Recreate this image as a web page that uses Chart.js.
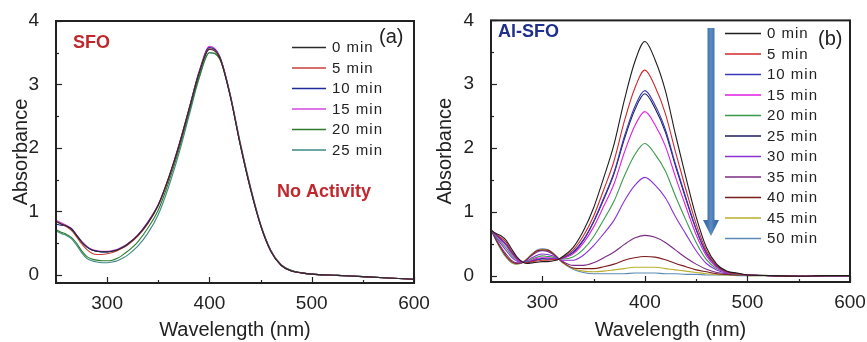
<!DOCTYPE html>
<html>
<head>
<meta charset="utf-8">
<script src="https://cdn.jsdelivr.net/npm/chart.js@4.4.0/dist/chart.umd.min.js"></script>
<style>
html, body { margin: 0; padding: 0; background: #fff; }
#wrap { position: relative; width: 867px; height: 342px; overflow: hidden; }
#graficoA { position: absolute; left: 0; top: 0; }
#graficoB { position: absolute; left: 434px; top: 0; }
</style>
</head>
<body>
<div id="wrap">
<canvas id="graficoA" width="434" height="342"></canvas>
<canvas id="graficoB" width="433" height="342"></canvas>
</div>
<script>
// wavelength grid (nm)
const wavelengths = [250,255,260,265,270,275,280,285,290,295,300,305,310,315,320,330,340,350,360,370,380,390,400,410,420,430,440,450,460,470,480,490,500,525,550,575,600];
const xTicks = [300, 400, 500, 600];
const yTicks = [0, 1, 2, 3, 4];

// (a) SFO
const timesA = ["0 min", "5 min", "10 min", "15 min", "20 min", "25 min"];
const sfo0  = [0.84,0.80,0.77,0.72,0.62,0.52,0.44,0.39,0.37,0.36,0.36,0.37,0.39,0.43,0.48,0.62,0.82,1.10,1.52,2.02,2.60,3.18,3.55,3.42,2.84,2.06,1.36,0.78,0.37,0.15,0.06,0.03,0.01,-0.01,-0.03,-0.05,-0.07];
const sfo5  = [0.84,0.80,0.76,0.70,0.60,0.49,0.40,0.34,0.32,0.32,0.33,0.35,0.38,0.42,0.47,0.61,0.81,1.09,1.51,2.01,2.60,3.18,3.56,3.43,2.85,2.07,1.37,0.78,0.37,0.15,0.06,0.03,0.01,-0.01,-0.03,-0.05,-0.07];
const sfo10 = [0.80,0.78,0.77,0.73,0.63,0.52,0.44,0.39,0.37,0.36,0.36,0.37,0.39,0.43,0.48,0.62,0.83,1.10,1.52,2.03,2.61,3.20,3.58,3.44,2.85,2.06,1.36,0.78,0.37,0.15,0.06,0.03,0.01,-0.01,-0.03,-0.05,-0.07];
const sfo15 = [0.86,0.82,0.78,0.73,0.63,0.53,0.45,0.40,0.38,0.37,0.37,0.38,0.40,0.44,0.49,0.63,0.84,1.11,1.53,2.04,2.62,3.21,3.60,3.45,2.86,2.07,1.37,0.79,0.38,0.16,0.06,0.03,0.01,-0.01,-0.03,-0.05,-0.07];
const sfo20 = [0.71,0.67,0.64,0.59,0.50,0.38,0.29,0.25,0.23,0.22,0.22,0.23,0.26,0.31,0.37,0.52,0.74,1.02,1.45,1.96,2.55,3.12,3.50,3.40,2.84,2.07,1.38,0.79,0.38,0.16,0.07,0.03,0.01,-0.01,-0.03,-0.05,-0.07];
const sfo25 = [0.69,0.65,0.62,0.57,0.47,0.35,0.26,0.22,0.20,0.19,0.19,0.20,0.22,0.26,0.31,0.45,0.66,0.95,1.38,1.90,2.50,3.10,3.50,3.42,2.87,2.10,1.40,0.80,0.39,0.16,0.07,0.03,0.01,-0.01,-0.03,-0.05,-0.07];

// (b) Al-SFO
const timesB = ["0 min", "5 min", "10 min", "15 min", "20 min", "25 min", "30 min", "35 min", "40 min", "45 min", "50 min"];
const al0  = [0.71,0.66,0.62,0.55,0.42,0.30,0.22,0.19,0.20,0.21,0.22,0.22,0.23,0.25,0.30,0.44,0.70,1.06,1.54,2.06,2.75,3.34,3.67,3.38,2.90,2.20,1.54,0.92,0.44,0.18,0.07,0.04,0.01,0.00,-0.01,0.00,0.00];
const al5  = [0.71,0.65,0.59,0.52,0.39,0.29,0.22,0.20,0.22,0.23,0.24,0.24,0.25,0.25,0.29,0.40,0.62,0.93,1.35,1.80,2.42,2.93,3.22,2.96,2.54,1.93,1.35,0.81,0.39,0.16,0.06,0.03,0.01,0.00,-0.01,0.00,0.00];
const al10 = [0.71,0.64,0.57,0.49,0.37,0.28,0.22,0.21,0.23,0.25,0.26,0.26,0.26,0.26,0.28,0.37,0.56,0.85,1.22,1.62,2.18,2.64,2.90,2.67,2.29,1.74,1.22,0.73,0.35,0.15,0.06,0.03,0.01,0.00,-0.01,0.00,0.00];
const al15 = [0.71,0.63,0.55,0.47,0.35,0.26,0.21,0.21,0.24,0.27,0.28,0.28,0.27,0.26,0.27,0.34,0.51,0.76,1.09,1.44,1.93,2.34,2.57,2.36,2.03,1.54,1.08,0.64,0.31,0.13,0.05,0.03,0.01,0.00,-0.01,0.00,0.00];
const al20 = [0.71,0.61,0.52,0.43,0.32,0.25,0.21,0.22,0.26,0.29,0.31,0.30,0.29,0.26,0.26,0.29,0.41,0.61,0.88,1.17,1.56,1.89,2.07,1.90,1.64,1.24,0.87,0.52,0.25,0.11,0.05,0.02,0.01,0.00,-0.01,0.00,0.00];
const al25 = [0.70,0.64,0.56,0.48,0.37,0.27,0.21,0.21,0.23,0.25,0.27,0.26,0.26,0.26,0.28,0.36,0.55,0.84,1.20,1.60,2.14,2.59,2.85,2.62,2.25,1.71,1.20,0.72,0.35,0.15,0.06,0.03,0.01,0.00,-0.01,0.00,0.00];
const al30 = [0.72,0.60,0.49,0.39,0.29,0.23,0.21,0.23,0.28,0.32,0.34,0.33,0.31,0.27,0.24,0.24,0.32,0.47,0.66,0.87,1.17,1.41,1.54,1.42,1.22,0.92,0.65,0.39,0.19,0.09,0.04,0.02,0.01,0.00,-0.01,0.00,0.00];
const al35 = [0.72,0.57,0.44,0.33,0.24,0.20,0.20,0.25,0.32,0.37,0.39,0.38,0.34,0.27,0.22,0.16,0.16,0.20,0.28,0.37,0.49,0.59,0.63,0.60,0.52,0.40,0.28,0.18,0.10,0.05,0.03,0.02,0.01,0.00,-0.01,0.00,0.00];
const al40 = [0.72,0.56,0.42,0.30,0.22,0.19,0.20,0.25,0.33,0.39,0.40,0.40,0.35,0.28,0.21,0.12,0.11,0.11,0.14,0.18,0.24,0.28,0.30,0.29,0.25,0.19,0.14,0.09,0.06,0.03,0.02,0.01,0.01,0.00,-0.01,0.00,0.00];
const al45 = [0.72,0.55,0.41,0.29,0.21,0.18,0.20,0.26,0.34,0.39,0.41,0.40,0.36,0.28,0.20,0.11,0.07,0.06,0.07,0.09,0.11,0.13,0.13,0.13,0.11,0.09,0.07,0.05,0.03,0.02,0.01,0.01,0.00,0.00,-0.01,0.00,0.00];
const al50 = [0.72,0.55,0.40,0.28,0.20,0.18,0.20,0.26,0.34,0.40,0.42,0.41,0.36,0.28,0.20,0.10,0.05,0.03,0.03,0.03,0.03,0.04,0.04,0.04,0.03,0.03,0.02,0.02,0.01,0.01,0.01,0.00,0.00,0.00,-0.01,0.00,0.00];

const coresA = ["#2b2b2b", "#c8403c", "#1e2a9c", "#d448e0", "#2c7a2c", "#3c8a86"];
const coresB = ["#1e1e1e", "#d0282c", "#3a3ab8", "#e01ee0", "#3a9a4a", "#1c1c5c", "#8a30d4", "#7c2c84", "#7a1c1c", "#b8ae2c", "#5c8ab4"];

const fonte = "'Liberation Sans', Arial, sans-serif";

// inward ticks + frame
const moldura = {
    id: "moldura",
    afterDatasetsDraw(chart) {
        const { ctx, chartArea: a, scales } = chart;
        ctx.save();
        ctx.strokeStyle = "#222";
        ctx.lineWidth = 1.2;
        for (let v = 250; v <= 600; v += 50) {
            const px = Math.round(scales.x.getPixelForValue(v)) + 0.5;
            const len = v % 100 === 0 ? 6 : 3;
            ctx.beginPath();
            ctx.moveTo(px, a.bottom);
            ctx.lineTo(px, a.bottom - len);
            ctx.stroke();
        }
        for (let v = 0; v <= 4; v += 0.5) {
            const py = Math.round(scales.y.getPixelForValue(v)) + 0.5;
            const len = Number.isInteger(v) ? 6 : 3;
            ctx.beginPath();
            ctx.moveTo(a.left, py);
            ctx.lineTo(a.left + len, py);
            ctx.stroke();
        }
        ctx.lineWidth = 2;
        ctx.strokeRect(a.left, a.top, a.right - a.left, a.bottom - a.top);
        ctx.restore();
    }
};

// legend, labels and arrow
function decoracao(cfg) {
    return {
        id: "decoracao",
        afterDraw(chart) {
            const ctx = chart.ctx;
            ctx.save();
            chart.data.datasets.forEach((ds, i) => {
                const y = cfg.legY0 + i * cfg.legDy;
                ctx.strokeStyle = ds.borderColor;
                ctx.lineWidth = 1.3;
                ctx.beginPath();
                ctx.moveTo(cfg.legX, y + 0.5);
                ctx.lineTo(cfg.legX + cfg.legW, y + 0.5);
                ctx.stroke();
                ctx.fillStyle = "#222";
                ctx.font = "15px " + fonte;
                ctx.letterSpacing = "1px";
                ctx.textBaseline = "middle";
                ctx.textAlign = "left";
                ctx.fillText(ds.label, cfg.legX + cfg.legW + 6, y + 1);
            });
            ctx.letterSpacing = "0px";
            ctx.textBaseline = "alphabetic";
            cfg.textos.forEach(t => {
                ctx.font = t.font;
                ctx.fillStyle = t.cor;
                ctx.fillText(t.txt, t.x, t.y);
            });
            if (cfg.seta) {
                const s = cfg.seta;
                const g = ctx.createLinearGradient(s.x - 4, 0, s.x + 4, 0);
                g.addColorStop(0, "#3f6fa8");
                g.addColorStop(0.5, "#5b8cc4");
                g.addColorStop(1, "#3f6fa8");
                ctx.fillStyle = g;
                ctx.fillRect(s.x - 3.5, s.top, 7, s.head - s.top);
                ctx.beginPath();
                ctx.moveTo(s.x - 8, s.head);
                ctx.lineTo(s.x + 8, s.head);
                ctx.lineTo(s.x, s.tip);
                ctx.closePath();
                ctx.fill();
            }
            ctx.restore();
        }
    };
}

function criarGrafico(id, series, tempos, cores, cfg) {
    const datasets = series.map((s, i) => ({
        label: tempos[i],
        data: wavelengths.map((w, j) => ({ x: w, y: s[j] })),
        borderColor: cores[i],
        borderWidth: 1.1,
        pointRadius: 0,
        cubicInterpolationMode: "monotone",
        fill: false
    }));
    return new Chart(document.getElementById(id), {
        type: "line",
        data: { datasets },
        options: {
            responsive: false,
            animation: false,
            layout: {
                autoPadding: false,
                padding: { left: 0, right: cfg.padR, top: cfg.padT, bottom: 0 }
            },
            scales: {
                x: {
                    type: "linear",
                    min: 250,
                    max: 600,
                    grid: { display: false },
                    border: { display: false },
                    afterBuildTicks: (s) => { s.ticks = xTicks.map(v => ({ value: v })); },
                    afterFit: (s) => { s.height = cfg.xH; },
                    ticks: { color: "#222", padding: 1, font: { family: fonte, size: 19 } },
                    title: {
                        display: true,
                        text: "Wavelength (nm)",
                        color: "#222",
                        font: { family: fonte, size: 20 },
                        padding: { top: 0, bottom: 0 }
                    }
                },
                y: {
                    min: cfg.yMin,
                    max: 4,
                    grid: { display: false },
                    border: { display: false },
                    afterBuildTicks: (s) => { s.ticks = yTicks.map(v => ({ value: v })); },
                    afterFit: (s) => { s.width = cfg.yW; },
                    ticks: { color: "#222", padding: 9, font: { family: fonte, size: 19 } },
                    title: {
                        display: true,
                        text: "Absorbance",
                        color: "#222",
                        font: { family: fonte, size: 20, lineHeight: 1.1 },
                        padding: { top: cfg.titlePad, bottom: 0 }
                    }
                }
            },
            plugins: {
                legend: { display: false },
                tooltip: { enabled: false }
            }
        },
        plugins: [moldura, decoracao(cfg)]
    });
}

criarGrafico("graficoA", [sfo0, sfo5, sfo10, sfo15, sfo20, sfo25], timesA, coresA, {
    padR: 20, padT: 21, xH: 59, yW: 56, yMin: -0.13, titlePad: 10,
    legX: 292, legW: 34, legY0: 47, legDy: 20.5,
    textos: [
        { txt: "SFO", x: 73, y: 48, font: "bold 18px " + fonte, cor: "#c0282d" },
        { txt: "No Activity", x: 277, y: 197, font: "bold 18px " + fonte, cor: "#c0282d" },
        { txt: "(a)", x: 379, y: 43, font: "20px " + fonte, cor: "#222" }
    ]
});

criarGrafico("graficoB", [al0, al5, al10, al15, al20, al25, al30, al35, al40, al45, al50], timesB, coresB, {
    padR: 17, padT: 19, xH: 60, yW: 57, yMin: -0.1, titlePad: 0,
    legX: 291, legW: 36, legY0: 33, legDy: 20.5,
    seta: { x: 277, top: 28, head: 220, tip: 236 },
    textos: [
        { txt: "Al-SFO", x: 64, y: 37, font: "bold 18px " + fonte, cor: "#1f2f8a" },
        { txt: "(b)", x: 384, y: 45, font: "20px " + fonte, cor: "#222" }
    ]
});
</script>
</body>
</html>
